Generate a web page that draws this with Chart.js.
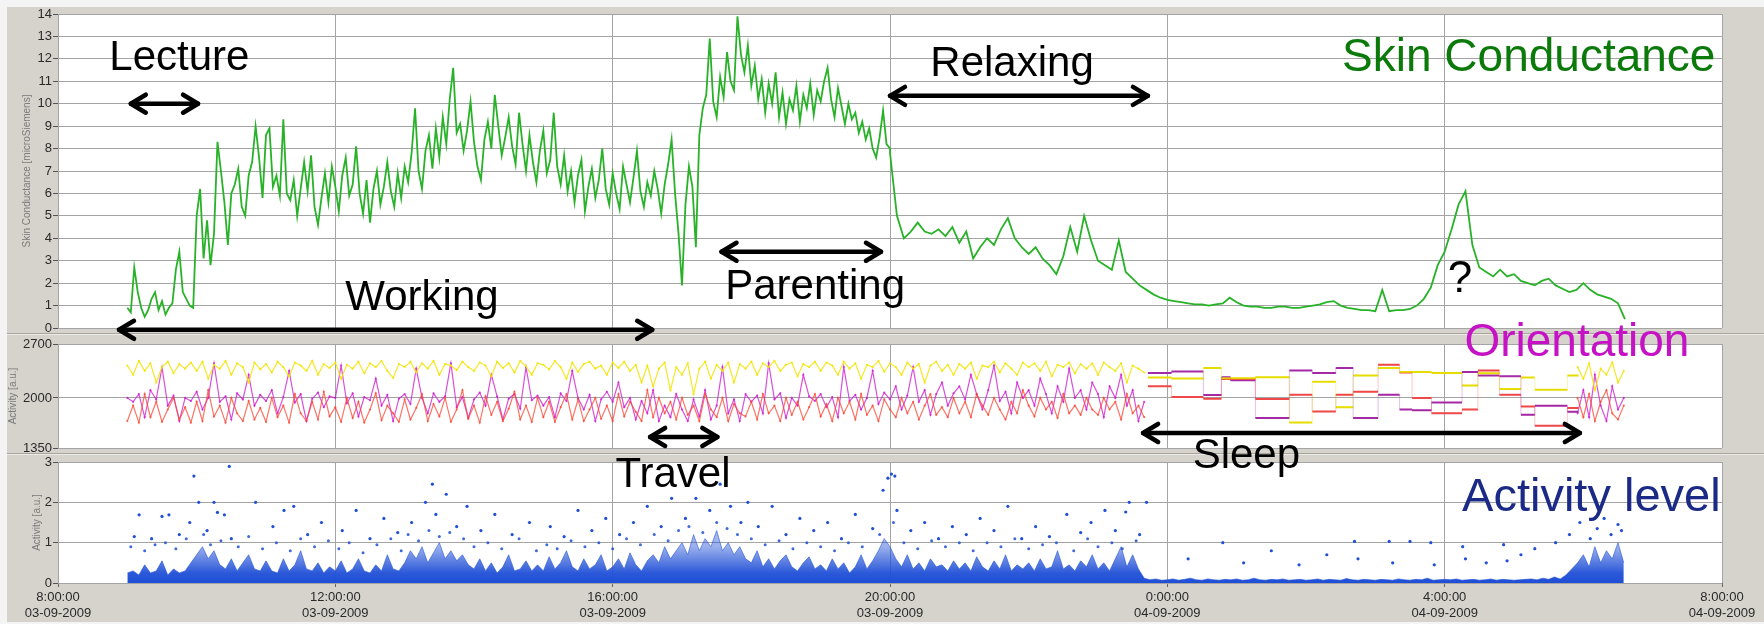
<!DOCTYPE html>
<html><head><meta charset="utf-8">
<script src="https://cdn.jsdelivr.net/npm/chart.js@4.4.1/dist/chart.umd.min.js"></script>
<style>
html,body{margin:0;padding:0;background:#f4f4f4;}
#wrap{position:relative;width:1764px;height:624px;overflow:hidden;background:#f4f4f4;}
#bg{position:absolute;left:7px;top:7px;width:1757px;height:615px;background:#d6d3cc;}
canvas{position:absolute;left:0;}
.sep{position:absolute;left:7px;width:1757px;height:1px;}
</style></head><body>
<div id="wrap">
<div id="bg"></div>
<div class="sep" style="top:333px;background:#a9a59d"></div>
<div class="sep" style="top:334px;background:#eceae6"></div>
<div class="sep" style="top:453px;background:#a9a59d"></div>
<div class="sep" style="top:454px;background:#eceae6"></div>
<canvas id="c1" width="1764" height="345" style="top:0px"></canvas>
<canvas id="c2" width="1764" height="145" style="top:320px"></canvas>
<canvas id="c3" width="1764" height="184" style="top:440px"></canvas>
<canvas id="ov" width="1764" height="624" style="top:0px"></canvas>
</div>
<script>
// ---------- axis ticks ----------
const xTickHours = [8, 12, 16, 20, 24, 28, 32];
const xTickTimes = ["8:00:00", "12:00:00", "16:00:00", "20:00:00", "0:00:00", "4:00:00", "8:00:00"];
const xTickDates = ["03-09-2009", "03-09-2009", "03-09-2009", "03-09-2009", "04-09-2009", "04-09-2009", "04-09-2009"];
const scTicks = [0,1,2,3,4,5,6,7,8,9,10,11,12,13,14];
const orientTicks = [1350, 2000, 2700];
const actTicks = [0, 1, 2, 3];

// ---------- skin conductance (microSiemens) ----------
const scDayStart = 9, scDayStepMin = 3;   // 9:00 .. 20:00
const scDay = [
0.9,0.7,2.7,1.6,0.9,0.5,0.8,1.3,1.6,0.8,
1.2,0.6,0.9,1.1,2.6,3.4,1.6,1.3,1.0,0.9,
5.0,6.2,3.1,4.8,2.8,4.2,8.3,7.0,5.6,3.7,
6.0,6.4,7.1,5.4,5.0,6.8,7.4,9.0,7.6,5.8,
8.6,8.9,6.3,6.8,5.9,9.3,6.0,5.7,6.6,5.0,
6.2,7.4,6.1,7.7,5.4,4.6,5.8,6.9,5.6,7.2,
6.3,5.2,6.8,7.6,5.9,6.4,8.1,6.0,5.1,6.6,
4.7,6.2,7.0,5.5,6.3,7.4,6.1,5.4,6.9,5.8,
7.2,6.5,7.8,9.8,7.0,6.2,7.9,8.6,7.1,8.9,
7.6,9.4,8.2,10.2,11.6,8.7,9.1,7.9,8.8,10.1,
8.3,7.2,6.6,8.4,9.2,8.0,10.4,9.0,7.7,8.5,
9.4,8.1,7.3,9.6,8.2,7.0,8.6,7.4,6.5,7.9,
8.8,6.9,7.5,9.6,7.2,6.4,7.7,6.1,7.0,5.6,
6.8,7.5,5.2,6.3,7.1,5.8,6.6,8.0,6.2,5.5,
6.9,6.0,5.3,7.2,6.4,5.6,6.7,7.9,6.1,5.4,
6.5,5.9,7.0,6.2,5.1,6.4,7.3,8.4,6.0,4.2,
1.9,5.5,7.2,6.3,3.6,8.6,9.8,10.4,12.9,10.1,
9.4,11.2,10.3,12.3,11.0,10.6,13.9,12.2,11.4,12.6,
10.8,11.7,10.2,11.1,9.6,10.9,10.0,11.4,9.4,10.5,
9.1,10.2,9.7,10.8,9.2,10.4,9.8,10.9,9.5,10.6,
10.1,11.0,11.6,10.2,9.4,10.7,9.9,9.1,10.0,9.3,
9.6,8.7,9.2,8.4,8.9,8.0,7.6,8.5,9.7,8.2,8.0];
const scNightStart = 20, scNightStepMin = 6;  // 20:00 .. 6:36
const scNight = [
7.8,5.0,4.0,4.3,4.7,4.3,4.2,4.4,4.1,4.5,
3.8,4.3,3.1,3.6,4.0,3.7,4.4,4.9,4.0,3.6,
3.3,3.6,3.1,2.8,2.4,3.2,4.5,3.4,5.0,3.9,
3.0,2.8,2.6,3.9,2.5,2.2,1.9,1.7,1.5,1.35,
1.25,1.2,1.15,1.1,1.05,1.05,1.0,1.05,1.1,1.35,
1.15,1.0,0.95,0.95,0.9,0.9,0.95,0.95,0.9,0.9,
0.95,1.0,1.05,1.15,1.2,1.0,0.9,0.85,0.8,0.8,
0.75,1.7,0.75,0.8,0.8,0.85,1.0,1.3,1.8,2.8,
3.4,4.4,5.5,6.1,3.7,2.7,2.5,2.3,2.6,2.3,
2.4,2.1,2.0,1.9,2.1,2.2,1.9,1.75,1.6,1.7,
2.0,1.7,1.5,1.4,1.3,1.1,0.4];

// ---------- orientation (three channels, a.u.) ----------
const orientDayStart = 9, orientStepMin = 5;      // 9:00 .. 23:40
const yellowDay = [
2420,2300,2480,2350,2450,2200,2400,2470,2320,2440,2380,2460,
2350,2470,2250,2430,2380,2480,2300,2450,2400,2200,2460,2370,
2440,2330,2470,2400,2280,2460,2420,2350,2480,2300,2440,2390,
2460,2250,2430,2380,2470,2320,2450,2400,2480,2350,2260,2440,
2400,2470,2330,2450,2380,2480,2300,2440,2420,2360,2470,2400,
2350,2460,2420,2280,2470,2390,2450,2330,2480,2410,2300,2450,
2430,2370,2480,2400,2250,2460,2340,2440,2470,2380,2420,2300,
2460,2390,2470,2350,2430,2200,2420,2150,2380,2460,2100,2400,
2300,2450,2050,2380,2470,2250,2430,2350,2460,2200,2440,2380,
2470,2300,2450,2400,2480,2350,2430,2460,2280,2440,2400,2470,
2350,2460,2420,2300,2470,2380,2450,2250,2430,2400,2480,2340,
2450,2400,2300,2460,2380,2440,2200,2420,2470,2350,2430,2300,
2440,2380,2460,2250,2420,2400,2470,2330,2450,2380,2300,2460,
2400,2450,2350,2470,2280,2430,2400,2460,2320,2440,2380,2450,
2300,2460,2400,2350,2450,2200,2420,2380,2330];
const magentaDay = [
2000,1950,2050,1750,2100,1980,2400,1900,2030,1700,2000,1960,
2080,1850,2000,2450,1950,2020,1720,2060,1980,2300,1900,2040,
1960,2100,1800,2010,2350,1940,2050,1700,1990,2070,1880,2020,
2000,2420,1930,2060,1760,2010,1970,2250,1900,2040,1700,1990,
2050,1920,2380,2000,1800,2060,1950,2020,2450,1880,2010,1740,
1980,2070,1900,2300,2020,1720,1990,2050,1860,2400,1970,2030,
1900,2010,1750,2060,1960,2350,2000,1850,2040,1700,1980,2080,
1950,2200,1880,2000,1720,1960,1800,2100,1700,1900,1750,2050,
1850,1700,1980,1760,2100,1720,1900,2400,1800,1980,1700,2050,
1950,2030,1800,2450,1980,2060,1740,2000,1900,2300,2020,1960,
2050,1880,2010,1750,2400,1960,2040,1850,2000,2350,1920,2070,
1980,2150,1850,2030,2400,1950,2100,1780,2050,2200,1900,2060,
2150,1980,2300,2050,1850,2100,2420,1960,2080,1800,2200,2000,
2100,1900,2250,2050,1800,2150,1950,2380,2000,2100,1850,2200,
2050,1750,2150,2000,2300,1900,2100,1700,1950];
const redDay = [
1700,1900,1680,2050,1750,1950,1690,1850,2000,1720,1880,1680,
1950,1700,2100,1760,1900,1680,2000,1800,1700,1960,1720,1870,
1690,2000,1750,1900,1680,2050,1800,1700,1950,1720,2080,1760,
1880,1690,2000,1740,1950,1680,1850,2060,1710,1900,1800,1690,
1980,1720,1870,2050,1700,1920,1760,2000,1690,1850,2100,1730,
1900,1680,2020,1780,1950,1700,1860,2080,1720,1900,1690,2000,
1750,1950,1690,1880,2050,1720,1980,1700,1850,2000,1730,1900,
1700,2050,1760,1950,1820,1700,2100,1750,2000,1800,1950,1720,
2000,1780,1900,1700,2050,1850,1750,2000,1700,1920,1800,1760,
1950,1720,2050,1800,1900,1700,2000,1780,1950,1720,1880,2050,
1760,1920,1700,2000,1800,1950,1720,2050,1780,1900,1700,1980,
1850,1750,2000,1800,1950,1720,1900,2050,1780,1880,1750,2000,
1800,1950,1750,2050,1900,1780,2000,1850,1720,1950,1800,2100,
1900,1760,2000,1850,1950,1740,2050,1800,1900,1780,2000,1850,
1780,2000,1850,1950,1720,2050,1800,1900,1750];
// sleep: [start hour, level] plateaus (last entry = end of sleep)
const yellowSleep = [[23.72,2265],[24.06,2252],[24.52,2390],[24.78,2255],[25.27,2270],[25.76,1680],[26.09,2210],[26.43,1880],[26.68,2290],[27.04,2390],[27.35,2335],[27.81,2325],[28.25,2160],[28.48,2320],[28.79,2115],[29.10,2265],[29.30,2105],[29.77,2290],[29.93,2290]];
const magentaSleep = [[23.72,2325],[24.06,2344],[24.52,2038],[24.78,2270],[24.91,2230],[25.27,1741],[25.76,2357],[26.09,2325],[26.43,2390],[26.68,1741],[27.04,2040],[27.35,1850],[27.53,1840],[27.81,1940],[28.25,2335],[28.48,2290],[28.79,2280],[29.10,1780],[29.30,1900],[29.77,1820],[29.93,1820]];
const redSleep = [[23.72,2150],[24.06,2012],[24.52,1990],[24.78,2245],[25.27,1987],[25.76,2040],[26.09,1825],[26.43,2040],[26.68,2080],[27.04,2430],[27.35,2330],[27.53,2000],[27.81,1800],[28.25,1850],[28.48,2355],[28.79,2040],[29.10,1890],[29.30,1640],[29.77,1870],[29.93,1870]];
const orientEndStart = 29 + 55/60;  // 5:55 .. 6:35
const yellowEnd = [2400,2250,2450,2100,2380,2300,2460,2200,2350];
const magentaEnd = [1800,2100,1750,2300,1900,1700,2150,1850,2000];
const redEnd = [2000,1750,2050,1700,1950,2100,1800,1720,1900];

// ---------- activity level (a.u.) ----------
const actBaseStart = 9, actBaseStepMin = 5;   // 9:00 .. 6:35
const actBase = [
0.25,0.3,0.2,0.45,0.25,0.3,0.55,0.2,0.35,0.25,0.3,0.5,
0.7,0.9,0.6,0.8,0.45,0.35,0.6,0.3,0.5,0.7,0.35,0.3,
0.55,0.3,0.25,0.6,0.3,0.45,0.8,0.35,0.3,0.5,0.25,0.4,
0.3,0.55,0.25,0.35,0.6,0.3,0.25,0.45,0.3,0.7,0.35,0.3,
0.5,0.8,0.6,0.9,0.5,0.75,1.0,0.6,0.8,0.55,0.7,0.45,
0.35,0.6,0.3,0.5,0.25,0.4,0.7,0.3,0.35,0.55,0.3,0.45,
0.3,0.65,0.35,0.5,0.8,0.4,0.3,0.6,0.35,0.45,0.7,0.3,
0.4,0.6,0.35,0.75,0.45,0.3,0.55,0.7,0.5,0.9,0.6,0.8,
1.0,0.7,1.2,0.8,1.1,0.9,1.3,0.8,1.0,0.7,0.9,0.6,
0.5,0.8,0.4,0.6,0.35,0.55,0.7,0.4,0.3,0.5,0.65,0.35,
0.45,0.3,0.6,0.35,0.5,0.25,0.4,0.7,0.35,0.55,0.8,1.1,
0.9,0.6,0.4,0.7,0.35,0.5,0.3,0.6,0.4,0.45,0.3,0.55,
0.35,0.5,0.3,0.65,0.4,0.3,0.55,0.35,0.7,0.3,0.45,0.35,
0.5,0.3,0.6,0.35,0.4,0.8,0.35,0.45,0.3,0.55,0.4,0.7,
0.35,0.5,0.3,0.6,0.9,0.4,0.7,0.35,0.12,0.08,0.1,0.07,
0.08,0.1,0.07,0.09,0.12,0.08,0.07,0.1,0.08,0.07,0.09,0.08,
0.1,0.07,0.08,0.12,0.08,0.07,0.09,0.08,0.1,0.07,0.08,0.09,
0.07,0.08,0.1,0.07,0.09,0.08,0.07,0.11,0.08,0.07,0.09,0.08,
0.07,0.09,0.08,0.07,0.1,0.08,0.07,0.09,0.08,0.12,0.07,0.08,
0.09,0.08,0.1,0.07,0.08,0.09,0.07,0.08,0.1,0.07,0.09,0.08,
0.07,0.08,0.09,0.1,0.08,0.12,0.09,0.15,0.1,0.2,0.35,0.5,
0.7,0.4,0.9,0.5,0.8,0.6,1.0,0.5];
const actDotHours = [
9.1,9.17,9.35,9.5,9.6,9.75,9.9,9.96,10.03,10.15,10.25,10.3,10.4,10.47,10.5,10.85,11.1,11.26,11.4,11.6,11.8,
12.1,12.3,12.5,12.7,12.9,13.1,13.3,13.4,13.45,13.6,13.75,13.9,14.1,14.3,14.55,14.8,
15.1,15.3,15.5,15.7,15.9,16.1,16.3,16.5,16.7,16.85,17.05,17.2,17.4,17.55,17.7,17.85,17.95,
18.1,18.3,18.5,18.7,18.9,19.1,19.3,19.5,19.75,19.9,19.97,20.02,20.07,
20.1,20.3,20.5,20.7,20.9,21.1,21.3,21.5,21.7,21.9,22.1,22.3,22.55,22.75,22.9,23.1,23.25,23.4,23.45,23.6,23.7,
24.3,24.8,25.1,25.5,25.9,26.3,26.7,26.75,27.2,27.25,27.5,27.8,27.85,28.26,28.3,28.6,28.85,28.9,29.1,29.3,
29.6,29.8,29.95,30.1,30.2,30.3,30.4,30.5,30.55];
const actDotValues = [
1.15,1.69,1.1,1.65,1.69,1.2,1.5,2.65,2.0,1.3,2.0,1.75,1.69,2.89,1.1,2.0,1.4,1.8,1.9,1.2,1.5,
1.3,1.8,1.1,1.6,1.25,1.5,2.0,2.45,1.7,2.2,1.4,1.9,1.3,1.7,1.2,1.5,
1.4,1.15,1.8,1.3,1.6,1.2,1.5,1.9,1.4,2.1,1.6,2.1,1.8,2.45,1.9,1.5,2.0,
1.4,1.9,1.2,1.6,1.3,1.5,1.1,1.7,1.35,2.3,2.6,2.7,2.65,
1.8,1.3,1.5,1.1,1.4,1.2,1.6,1.3,1.9,1.1,1.4,1.15,1.7,1.25,1.5,1.8,1.3,1.76,2.0,1.2,2.0,
0.6,1.0,0.5,0.8,0.45,0.7,1.03,0.6,1.03,0.5,1.03,1.0,0.45,0.9,0.6,0.5,0.95,0.55,0.7,0.85,
1.0,1.2,1.5,1.1,1.35,1.6,1.2,1.45,1.3];
const actMidHours = [
9.05,9.25,9.4,9.55,9.7,9.85,10.1,10.2,10.35,10.6,10.75,10.95,11.15,11.35,11.5,11.7,11.9,12.05,12.2,12.4,
12.6,12.8,12.95,13.05,13.2,13.35,13.5,13.65,13.85,14.0,14.2,14.4,14.65,14.9,15.05,15.2,15.4,15.6,15.8,16.0,
16.2,16.4,16.6,16.8,16.95,17.1,17.3,17.5,17.65,17.8,18.0,18.2,18.4,18.6,18.8,19.0,19.2,19.4,19.6,19.85,
20.05,20.2,20.4,20.6,20.8,21.0,21.2,21.4,21.6,21.8,22.0,22.2,22.4,22.65,22.85,23.0,23.2,23.35,23.55];
const actMidValues = [
0.9,0.8,0.95,1.0,0.85,1.1,1.2,0.95,1.05,0.9,1.15,0.85,1.0,0.8,1.1,0.9,1.05,0.85,1.0,0.75,
0.95,1.1,0.8,1.2,1.05,1.3,1.15,1.25,1.1,0.9,1.0,0.85,1.1,0.8,0.95,0.85,1.05,0.9,1.0,0.85,
1.1,0.95,1.2,1.05,1.3,1.4,1.25,1.5,1.35,1.2,1.1,0.95,1.05,0.85,1.0,0.9,0.8,1.0,0.9,1.2,
1.5,1.0,0.85,1.05,0.9,1.0,0.8,1.0,0.9,1.1,0.85,0.95,1.0,0.8,1.1,0.9,1.0,0.85,1.05];

// ---------- helpers ----------
const FONT = "'Liberation Sans', Arial, sans-serif";
function series(start, stepMin, vals) { return vals.map((v, i) => ({x: start + i * stepMin / 60, y: v})); }
function plateaus(arr) {
  const out = [];
  for (let i = 0; i < arr.length - 1; i++) {
    out.push({x: arr[i][0], y: arr[i][1]}, {x: arr[i + 1][0], y: arr[i][1]}, {x: arr[i + 1][0], y: NaN});
  }
  return out;
}
function pairs(arr) { return arr.map(p => ({x: p[0], y: p[1]})); }
function dots(hours, vals) { return hours.map((h, i) => ({x: h, y: vals[i]})); }

const whiteBg = { id: 'whiteBg', beforeDraw(chart) {
  const {ctx, chartArea: a} = chart; ctx.save(); ctx.fillStyle = '#ffffff';
  ctx.fillRect(a.left, a.top, a.right - a.left, a.bottom - a.top); ctx.restore(); } };

function yAxis(min, max, ticks, title, titlePad) {
  return { type: 'linear', min: min, max: max,
    afterBuildTicks: s => { s.ticks = ticks.map(v => ({value: v})); },
    afterFit: s => { s.width = 58; },
    ticks: { autoSkip: false, font: {family: FONT, size: 13}, color: '#2a2a2a', padding: 1, callback: v => String(v) },
    grid: { color: '#a4a4a4', lineWidth: 1, tickLength: 5, tickColor: '#555' },
    border: { display: false },
    title: { display: true, text: title, color: '#7a7a7a', font: {family: FONT, size: 10}, padding: {top: titlePad, bottom: 0} } };
}
function xAxis(show) {
  return { type: 'linear', min: 8, max: 32,
    afterBuildTicks: s => { s.ticks = xTickHours.map(v => ({value: v})); },
    afterFit: s => { s.height = show ? 41 : 0; },
    ticks: { display: show, autoSkip: false, maxRotation: 0, font: {family: FONT, size: 13, lineHeight: 1.25}, color: '#2a2a2a', padding: 2,
      callback: (v, i) => [xTickTimes[i], xTickDates[i]] },
    grid: { color: '#a4a4a4', tickLength: 4, tickColor: '#666', drawTicks: show },
    border: { display: false } };
}
function makeChart(id, datasets, y, showX, pad) {
  return new Chart(document.getElementById(id), {
    type: 'line',
    data: { datasets: datasets },
    options: { responsive: false, animation: false, devicePixelRatio: 1, events: [], parsing: false, spanGaps: false,
      layout: { padding: pad },
      plugins: { legend: {display: false}, tooltip: {enabled: false} },
      elements: { point: {radius: 0}, line: {tension: 0} },
      scales: { x: xAxis(showX), y: y } },
    plugins: [whiteBg] });
}

// ---------- charts ----------
const scPoints = series(scDayStart, scDayStepMin, scDay).concat(series(scNightStart, scNightStepMin, scNight));
const c1 = makeChart('c1', [
  { data: scPoints, borderColor: '#28b228', borderWidth: 1.8, pointRadius: 0 }
], yAxis(0, 14, scTicks, 'Skin Conductance [microSiemens]', 21), false, {left: 0, right: 42, top: 14, bottom: 17});

const YEL = 'rgba(242,228,0,0.85)', MAG = 'rgba(205,20,205,0.75)', RED = 'rgba(250,70,50,0.75)';
const dense = (data, col) => ({ data: data, borderColor: col, backgroundColor: col, borderWidth: 1.2, pointRadius: 1.1, pointBorderWidth: 0 });
const c2 = makeChart('c2', [
  dense(series(orientDayStart, orientStepMin, yellowDay), YEL),
  dense(series(orientDayStart, orientStepMin, redDay), RED),
  dense(series(orientDayStart, orientStepMin, magentaDay), MAG),
  { data: pairs(yellowSleep), borderColor: 'rgba(230,222,0,0.3)', borderWidth: 1, stepped: true },
  { data: pairs(redSleep), borderColor: 'rgba(240,72,72,0.3)', borderWidth: 1, stepped: true },
  { data: pairs(magentaSleep), borderColor: 'rgba(165,42,165,0.3)', borderWidth: 1, stepped: true },
  { data: plateaus(yellowSleep), borderColor: '#e6de00', borderWidth: 2 },
  { data: plateaus(redSleep), borderColor: '#f04848', borderWidth: 2 },
  { data: plateaus(magentaSleep), borderColor: '#a52aa5', borderWidth: 2 },
  dense(series(orientEndStart, orientStepMin, yellowEnd), YEL),
  dense(series(orientEndStart, orientStepMin, redEnd), RED),
  dense(series(orientEndStart, orientStepMin, magentaEnd), MAG)
], yAxis(1350, 2700, orientTicks, 'Activity [a.u.]', 7), false, {left: 0, right: 42, top: 24, bottom: 17});

function actFill(ctx) {
  const chart = ctx.chart, a = chart.chartArea;
  if (!a) return 'rgba(31,79,214,0.7)';
  const g = chart.ctx.createLinearGradient(0, a.bottom, 0, a.top);
  g.addColorStop(0, 'rgba(31,79,214,1)');
  g.addColorStop(0.08, 'rgba(31,79,214,0.95)');
  g.addColorStop(0.3, 'rgba(31,79,214,0.45)');
  g.addColorStop(1, 'rgba(31,79,214,0.2)');
  return g;
}
const c3 = makeChart('c3', [
  { data: series(actBaseStart, actBaseStepMin, actBase), borderColor: 'rgba(31,79,214,0.7)', backgroundColor: actFill, fill: 'origin', borderWidth: 0.8 },
  { type: 'scatter', data: dots(actMidHours, actMidValues), backgroundColor: 'rgba(31,79,214,0.85)', borderWidth: 0, pointRadius: 1.5, showLine: false },
  { type: 'scatter', data: dots(actDotHours, actDotValues), backgroundColor: '#1f4fd6', borderWidth: 0, pointRadius: 1.6, showLine: false }
], yAxis(0, 3, actTicks, 'Activity [a.u.]', 31), true, {left: 0, right: 42, top: 22, bottom: 0});

// ---------- annotations ----------
const charts = [c1, c2, c3];
const offsets = [0, 320, 440];
const annArrows = [
  {from: 9.05, to: 10.02, panel: 0, v: 10.0},
  {from: 8.88, to: 16.57, panel: 0, v: -0.08},
  {from: 17.57, to: 19.87, panel: 0, v: 3.4},
  {from: 20.0, to: 23.72, panel: 0, v: 10.35},
  {from: 16.54, to: 17.51, panel: 1, v: 1493},
  {from: 23.65, to: 29.95, panel: 1, v: 1545}
];
const annTexts = [
  {t: 'Lecture', h: 9.75, panel: 0, v: 12.0, c: '#000', s: 42, a: 'center'},
  {t: 'Working', h: 13.25, panel: 0, v: 1.3, c: '#000', s: 42, a: 'center'},
  {t: 'Parenting', h: 18.92, panel: 0, v: 1.8, c: '#000', s: 42, a: 'center'},
  {t: 'Relaxing', h: 21.76, panel: 0, v: 11.73, c: '#000', s: 42, a: 'center'},
  {t: 'Travel', h: 16.87, panel: 2, v: 2.66, c: '#000', s: 42, a: 'center'},
  {t: 'Sleep', h: 25.14, panel: 2, v: 3.15, c: '#000', s: 42, a: 'center'},
  {t: '?', h: 28.22, panel: 0, v: 2.15, c: '#000', s: 44, a: 'center'},
  {t: 'Skin Conductance', h: 31.905, panel: 0, v: 12.04, c: '#0b7a0b', s: 46, a: 'right'},
  {t: 'Orientation', h: 31.53, panel: 1, v: 2713, c: '#c412c4', s: 46, a: 'right'},
  {t: 'Activity level', h: 31.98, panel: 2, v: 2.11, c: '#1b2a86', s: 47, a: 'right'}
];
const ctx = document.getElementById('ov').getContext('2d');
const px = h => charts[0].scales.x.getPixelForValue(h);
const py = (p, v) => offsets[p] + charts[p].scales.y.getPixelForValue(v);
ctx.strokeStyle = '#000'; ctx.lineCap = 'round'; ctx.lineJoin = 'round'; ctx.lineWidth = 4.5;
annArrows.forEach(a => {
  const x1 = px(a.from), x2 = px(a.to), y = py(a.panel, a.v), L = 15, H = 9;
  ctx.beginPath(); ctx.moveTo(x1, y); ctx.lineTo(x2, y); ctx.stroke();
  ctx.beginPath(); ctx.moveTo(x1 + L, y - H); ctx.lineTo(x1, y); ctx.lineTo(x1 + L, y + H); ctx.stroke();
  ctx.beginPath(); ctx.moveTo(x2 - L, y - H); ctx.lineTo(x2, y); ctx.lineTo(x2 - L, y + H); ctx.stroke();
});
annTexts.forEach(t => {
  ctx.font = t.s + 'px ' + FONT; ctx.fillStyle = t.c; ctx.textAlign = t.a; ctx.textBaseline = 'middle';
  ctx.fillText(t.t, px(t.h), py(t.panel, t.v));
});
</script>
</body></html>
